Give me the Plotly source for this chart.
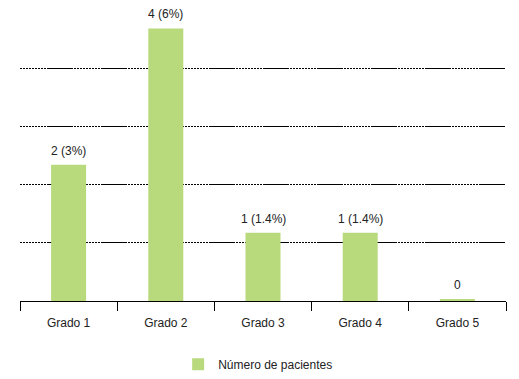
import plotly.graph_objects as go

categories = ["Grado 1", "Grado 2", "Grado 3", "Grado 4", "Grado 5"]
patients = [2, 4, 1, 1, 0]
labels = ["2 (3%)", "4 (6%)", "1 (1.4%)", "1 (1.4%)", "0"]
series_name = "Número de pacientes"

BAR_COLOR = "#B9D97D"
MIN_VISIBLE = 0.03  # zero-valued bar is drawn as a thin sliver, as in the original

display_vals = [v if v > 0 else MIN_VISIBLE for v in patients]

# custom dash-dot pattern for gridlines: dotted run, then long solid run
dots = []
for _ in range(9):
    dots += ["2px", "1px"]
dash = ",".join(dots + ["26px", "1px"])

fig = go.Figure()
fig.add_trace(go.Bar(
    x=categories, y=display_vals, name=series_name,
    marker=dict(color=BAR_COLOR, line=dict(width=0)),
    width=0.36, showlegend=True, hoverinfo="skip",
))

for c, v, t in zip(categories, display_vals, labels):
    fig.add_annotation(x=c, y=v, text=t, showarrow=False, yanchor="bottom",
                       yshift=5, font=dict(size=12, color="#222"))

fig.update_layout(
    width=511, height=371,
    margin=dict(l=12, r=13, t=2, b=78, autoexpand=False),
    paper_bgcolor="white", plot_bgcolor="white",
    font=dict(family="Liberation Sans, Arial, sans-serif", size=12, color="#222"),
    bargap=0.64,
    showlegend=True,
    legend=dict(orientation="h", x=0.49, xanchor="center",
                yref="container", y=0.04, yanchor="middle",
                font=dict(size=12, color="#222")),
)
fig.update_xaxes(
    type="category", showline=True, linecolor="black", linewidth=1,
    ticks="outside", ticklen=9, tickcolor="black", tickson="boundaries",
    ticklabelstandoff=11,
    showgrid=False, tickfont=dict(size=12, color="#222"), fixedrange=True,
    automargin=False,
)
fig.update_yaxes(
    range=[0, 4.27], dtick=0.853, tick0=0, showticklabels=False, ticks="",
    showgrid=True, gridcolor="black", gridwidth=1, griddash=dash,
    zeroline=False, fixedrange=True, automargin=False,
)

fig.write_html("out.html")
